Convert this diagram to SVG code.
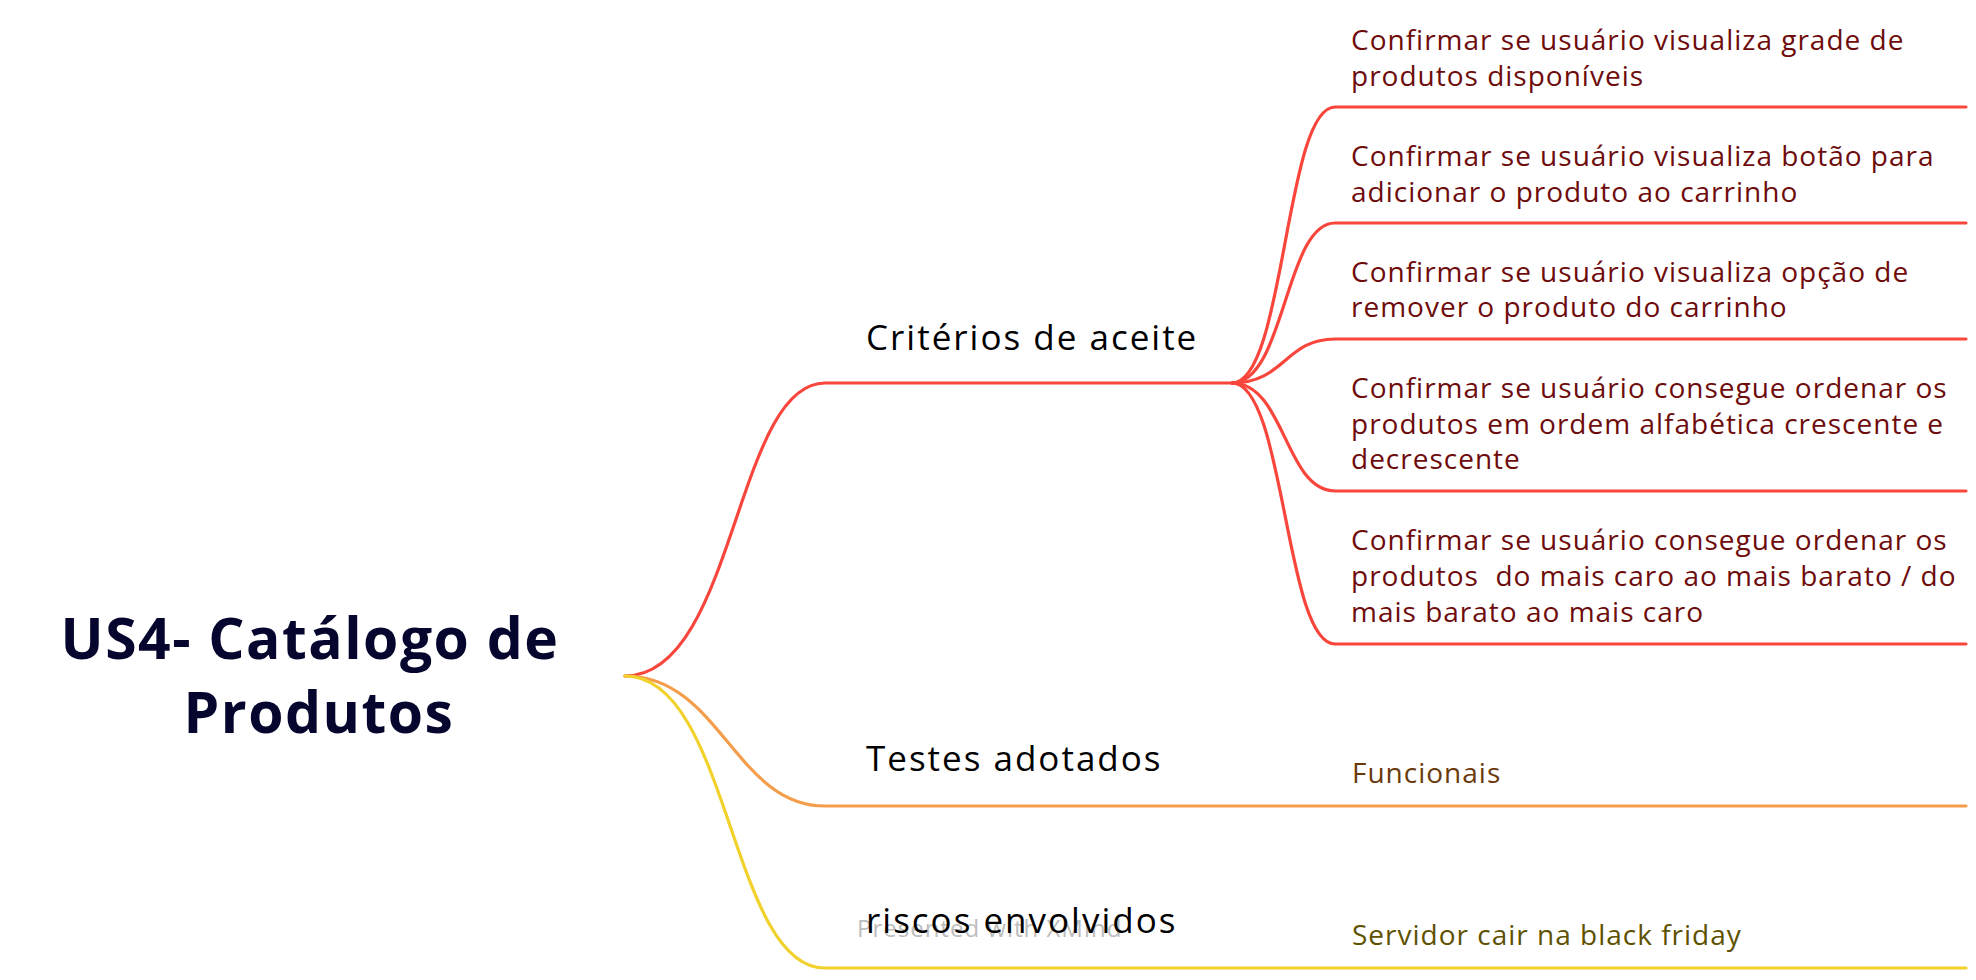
<svg xmlns="http://www.w3.org/2000/svg" width="1976" height="980" viewBox="0 0 1976 980">
<style>
.ln{fill:none;stroke-width:3.2;stroke-linecap:round}
.red{stroke:#f9463c}
.org{stroke:#f49d4b}
.yel{stroke:#f1d12b}
.root{font-family:"Open Sans","Liberation Sans",sans-serif;font-weight:700;font-size:57px;letter-spacing:1.5px;fill:#05052d;text-anchor:middle}
.main{font-family:"Open Sans","Liberation Sans",sans-serif;font-size:35px;letter-spacing:2px;fill:#000}
.sub{font-family:"Open Sans","Liberation Sans",sans-serif;font-size:28px;letter-spacing:1px}
.c1{fill:#6e0b0b}
.c2{fill:#6b3a0c}
.c3{fill:#5e5100}
.wm{font-family:"Open Sans","Liberation Sans",sans-serif;font-size:24px;letter-spacing:1px;fill:#bdbdbd}
</style>
<rect width="1976" height="980" fill="#fff"/>
<g id="connectors">
<path class="ln red" d="M625 676 C735 676,735 383,825 383 L1232 383"/>
<path class="ln org" d="M625 676 C720 676,735 806,825 806 L1966 806"/>
<path class="ln yel" d="M625 676 C730 676,730 968,825 968 L1966 968"/>
<path class="ln red" d="M1232 383 C1285 383,1285 107,1335 107 L1966 107"/>
<path class="ln red" d="M1232 383 C1285 383,1285 223,1335 223 L1966 223"/>
<path class="ln red" d="M1232 383 C1285 383,1285 339,1335 339 L1966 339"/>
<path class="ln red" d="M1232 383 C1285 383,1285 491,1335 491 L1966 491"/>
<path class="ln red" d="M1232 383 C1285 383,1285 644,1335 644 L1966 644"/>
</g>
<text class="wm" x="857" y="937">Presented with XMind</text>
<g id="root"><text class="root"><tspan x="310" y="659">US4- Catálogo de</tspan><tspan x="319" y="733">Produtos</tspan></text></g>
<g id="criterios"><text class="main" x="866" y="350">Critérios de aceite</text></g>
<g id="testes"><text class="main" x="866" y="771">Testes adotados</text></g>
<g id="riscos"><text class="main" x="866" y="933">riscos envolvidos</text></g>
<g id="c1"><text class="sub c1"><tspan x="1351" y="50">Confirmar se usuário visualiza grade de</tspan><tspan x="1351" y="86">produtos disponíveis</tspan></text></g>
<g id="c2"><text class="sub c1"><tspan x="1351" y="166">Confirmar se usuário visualiza botão para</tspan><tspan x="1351" y="202">adicionar o produto ao carrinho</tspan></text></g>
<g id="c3"><text class="sub c1"><tspan x="1351" y="282">Confirmar se usuário visualiza opção de</tspan><tspan x="1351" y="317">remover o produto do carrinho</tspan></text></g>
<g id="c4"><text class="sub c1"><tspan x="1351" y="398">Confirmar se usuário consegue ordenar os</tspan><tspan x="1351" y="434">produtos em ordem alfabética crescente e</tspan><tspan x="1351" y="469">decrescente</tspan></text></g>
<g id="c5"><text class="sub c1" xml:space="preserve"><tspan x="1351" y="550">Confirmar se usuário consegue ordenar os</tspan><tspan x="1351" y="586">produtos  do mais caro ao mais barato / do</tspan><tspan x="1351" y="622">mais barato ao mais caro</tspan></text></g>
<g id="funcionais"><text class="sub c2" x="1352" y="783">Funcionais</text></g>
<g id="servidor"><text class="sub c3" x="1352" y="945">Servidor cair na black friday</text></g>
</svg>
